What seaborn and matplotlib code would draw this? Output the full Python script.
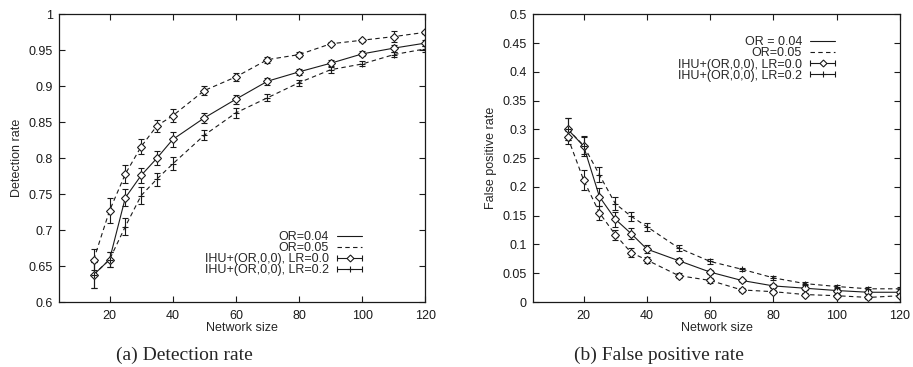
import matplotlib
matplotlib.use("Agg")
import matplotlib.pyplot as plt
from matplotlib.lines import Line2D
from matplotlib.legend_handler import HandlerLine2D, HandlerTuple
from matplotlib.ticker import FuncFormatter, MultipleLocator
import seaborn as sns
import pandas as pd

# network sizes on the x axis
sizes = [15, 20, 25, 30, 35, 40, 50, 60, 70, 80, 90, 100, 110, 120]

# (a) detection rate
det_or04 = [0.638, 0.659, 0.745, 0.776, 0.800, 0.826, 0.856, 0.882, 0.907, 0.920, 0.932, 0.945, 0.953, 0.960]
det_or04_err = [0.018, 0.010, 0.012, 0.011, 0.010, 0.010, 0.007, 0.006, 0.005, 0.004, 0.005, 0.0035, 0.005, 0.004]
det_lr0 = [0.659, 0.727, 0.778, 0.816, 0.845, 0.859, 0.894, 0.913, 0.937, 0.944, 0.959, 0.964, 0.969, 0.975]
det_lr0_err = [0.015, 0.017, 0.013, 0.010, 0.008, 0.009, 0.006, 0.006, 0.004, 0.003, 0.002, 0.002, 0.008, 0.002]
det_lr2 = [0.638, 0.659, 0.705, 0.748, 0.771, 0.792, 0.832, 0.863, 0.884, 0.905, 0.923, 0.931, 0.944, 0.952]
det_lr2_err = [0.018, 0.010, 0.012, 0.012, 0.009, 0.009, 0.007, 0.007, 0.005, 0.004, 0.005, 0.0035, 0.004, 0.004]

# (b) false positive rate
fp_or04 = [0.300, 0.271, 0.183, 0.144, 0.119, 0.092, 0.072, 0.052, 0.0375, 0.028, 0.024, 0.020, 0.017, 0.017]
fp_or04_err = [0.019, 0.017, 0.016, 0.013, 0.0095, 0.007, 0.004, 0.004, 0.003, 0.003, 0.003, 0.003, 0.003, 0.003]
fp_lr0 = [0.286, 0.212, 0.155, 0.117, 0.086, 0.073, 0.046, 0.0375, 0.021, 0.018, 0.013, 0.011, 0.008, 0.011]
fp_lr0_err = [0.012, 0.018, 0.012, 0.009, 0.008, 0.006, 0.004, 0.004, 0.003, 0.003, 0.003, 0.003, 0.003, 0.003]
fp_lr2 = [0.300, 0.272, 0.221, 0.171, 0.149, 0.131, 0.094, 0.0705, 0.057, 0.042, 0.032, 0.027, 0.023, 0.023]
fp_lr2_err = [0.019, 0.015, 0.013, 0.011, 0.008, 0.007, 0.005, 0.004, 0.003, 0.003, 0.003, 0.003, 0.003, 0.003]

legend_a = ["OR=0.04", "OR=0.05", "IHU+(OR,0,0), LR=0.0", "IHU+(OR,0,0), LR=0.2"]
legend_b = ["OR = 0.04", "OR=0.05", "IHU+(OR,0,0), LR=0.0", "IHU+(OR,0,0), LR=0.2"]

sns.set_theme(style="ticks")
plt.rcParams["font.family"] = ["Liberation Sans", "DejaVu Sans"]
plt.rcParams["font.size"] = 9

FS = 9
DASH = (4, 3)
LW = 0.8


def draw_panel(ax, curves, ylim, ystep, ylabel, labels, legend_loc, legend_anchor):
    for y, err, dashed, marker in curves:
        df = pd.DataFrame({"size": sizes, "rate": y})
        kws = dict(dashes=DASH) if dashed else dict(linestyle="-")
        sns.lineplot(data=df, x="size", y="rate", ax=ax, color="k", lw=LW, **kws)
        ax.errorbar(sizes, y, yerr=err, fmt=marker, color="k", ms=3.8 if marker == "D" else 5,
                    mfc="white" if marker == "D" else "k", mec="k", mew=0.8,
                    elinewidth=LW, capsize=2.3, capthick=LW, ecolor="k")

    ax.set_xlim(4, 120)
    ax.set_ylim(*ylim)
    ax.xaxis.set_major_locator(MultipleLocator(20))
    ax.yaxis.set_major_locator(MultipleLocator(ystep))
    ax.yaxis.set_major_formatter(FuncFormatter(lambda v, p: f"{v:g}"))
    ax.tick_params(direction="in", length=4, width=0.8, top=True, right=True,
                   labelsize=FS, colors="k")
    ax.tick_params(axis="y", pad=4.5)
    ax.tick_params(axis="x", pad=6)
    for s in ax.spines.values():
        s.set_linewidth(0.9)
        s.set_color("k")
    ax.set_xlabel("Network size", fontsize=FS)
    ax.set_ylabel(ylabel, fontsize=FS)
    ax.xaxis.set_label_coords(0.5, -0.069)
    ax.yaxis.set_label_coords(-0.098, 0.5)

    # gnuplot style key: text on the left, sample on the right
    l1 = Line2D([], [], color="k", lw=LW)
    l2 = Line2D([], [], color="k", lw=LW, dashes=DASH)
    caps1 = Line2D([], [], color="k", lw=LW, marker="|", ms=5, mew=LW)
    mark1 = Line2D([], [], ls="none", marker="D", ms=3.5, mfc="white", mec="k", mew=0.8)
    caps2 = Line2D([], [], color="k", lw=LW, marker="|", ms=5, mew=LW)
    mark2 = Line2D([], [], ls="none", marker="+", ms=5, mec="k", mew=0.8)
    hmap = {tuple: HandlerTuple(ndivide=1, pad=0),
            caps1: HandlerLine2D(numpoints=2, marker_pad=0),
            caps2: HandlerLine2D(numpoints=2, marker_pad=0)}
    ax.legend([l1, l2, (caps1, mark1), (caps2, mark2)], labels, loc=legend_loc,
              bbox_to_anchor=legend_anchor, frameon=False, markerfirst=False,
              handlelength=2.0, handletextpad=0.65, labelspacing=-0.07,
              borderpad=0, borderaxespad=0, fontsize=FS, handler_map=hmap)


fig = plt.figure(figsize=(9.13, 3.67), dpi=100)
ax1 = fig.add_axes([0.0646, 0.177, 0.4014, 0.784])
ax2 = fig.add_axes([0.5838, 0.177, 0.402, 0.784])

draw_panel(ax1,
           [(det_or04, det_or04_err, False, "D"),
            (det_lr0, det_lr0_err, True, "D"),
            (det_lr2, det_lr2_err, True, "+")],
           (0.6, 1.0), 0.05, "Detection rate", legend_a, "lower right", (0.827, 0.089))
draw_panel(ax2,
           [(fp_or04, fp_or04_err, False, "D"),
            (fp_lr0, fp_lr0_err, True, "D"),
            (fp_lr2, fp_lr2_err, True, "+")],
           (0.0, 0.5), 0.05, "False positive rate", legend_b, "upper right", (0.823, 0.9235))

fig.text(184 / 913, 1 - 355.7 / 367, "(a) Detection rate", ha="center", va="center",
         fontsize=14, family=["Liberation Serif", "DejaVu Serif"])
fig.text(659 / 913, 1 - 355.7 / 367, "(b) False positive rate", ha="center", va="center",
         fontsize=14, family=["Liberation Serif", "DejaVu Serif"])

fig.savefig("out.png", dpi=100)
